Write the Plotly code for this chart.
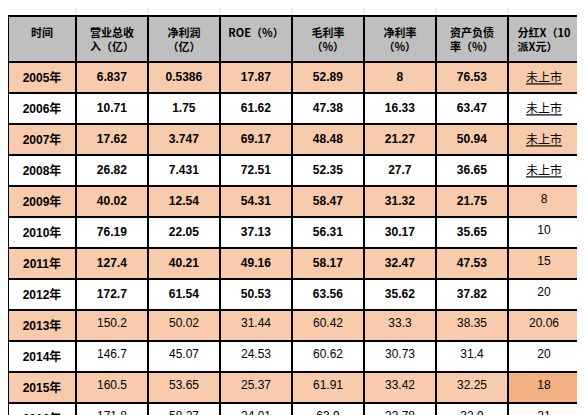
import plotly.graph_objects as go

headers = ["时间", "营业总收<br>入（亿）", "净利润<br>（亿）", "ROE（%）", "毛利率<br>（%）",
           "净利率<br>（%）", "资产负债<br>率（%）", "分红X（10<br>派X元）"]
years = [f"{y}年" for y in range(2005, 2023)]
revenue = ["6.837", "10.71", "17.62", "26.82", "40.02", "76.19", "127.4", "172.7", "150.2",
           "146.7", "160.5", "171.8", "199.2", "241.6", "231.3", "211", "253.5", "301"]
profit = ["0.5386", "1.75", "3.747", "7.431", "12.54", "22.05", "40.21", "61.54", "50.02",
          "45.07", "53.65", "58.27", "66.27", "81.15", "73.83", "74.82", "75.08", "93.78"]
roe = ["17.87", "61.62", "69.17", "72.51", "54.31", "37.13", "49.16", "50.53", "31.44",
       "24.53", "25.37", "24.01", "24.08", "25.95", "21.21", "20.2", "18.55", "21.03"]
gross = ["52.89", "47.38", "48.48", "52.35", "58.47", "56.31", "58.17", "63.56", "60.42",
         "60.62", "61.91", "63.9", "66.46", "73.7", "71.35", "72.27", "75.32", "74.6"]
net = ["8", "16.33", "21.27", "27.7", "31.32", "30.17", "32.47", "35.62", "33.3",
       "30.73", "33.42", "33.78", "33.23", "33.59", "31.94", "35.47", "29.64", "31.19"]
debt = ["76.53", "63.47", "50.94", "36.65", "21.75", "35.65", "47.53", "37.82", "38.35",
        "31.4", "32.25", "32.9", "31.82", "32.16", "31.73", "28.58", "37.34", "30.07"]
dividend = ["未上市", "未上市", "未上市", "未上市", "8", "10", "15", "20", "20.06",
            "20", "18", "21", "25.5", "32", "30", "30", "30", "37.4"]

n = len(years)
bold_rows = 8

def fmt(col):
    return [f"<b>{v}</b>" if i < bold_rows else v for i, v in enumerate(col)]

cols = [[f"<b>{y}</b>" for y in years]] + [fmt(c) for c in [revenue, profit, roe, gross, net, debt]]
cols.append([f"<u>{v}</u>" if v == "未上市" else v for v in dividend])

orange, white = "#F8CBAD", "#FFFFFF"
row_fill = [orange if i % 2 == 0 else white for i in range(n)]
fills = [row_fill[:] for _ in range(8)]
fills[7][10] = "#F4B183"

W, H = 585, 415
fig = go.Figure(go.Table(
    domain=dict(x=[0, 572 / W], y=[0, 1 - 8 / H]),
    columnwidth=[68, 72, 72, 72, 72, 72, 72, 72],
    header=dict(values=[f"<b>{h}</b>" for h in headers], fill_color="#BFBFBF",
                line=dict(color="black", width=2), align="center", height=40,
                font=dict(family="Noto Sans CJK SC, Liberation Sans", size=11, color="black")),
    cells=dict(values=cols, fill_color=fills, line=dict(color="black", width=2),
               align="center", height=19.8,
               font=dict(family="Liberation Sans Narrow, Liberation Sans, Noto Sans CJK SC",
                         size=12, color="black")),
))

# faint spreadsheet gridlines around the table
shapes = []
for x in [68, 140, 212, 284, 356, 428, 500, 572]:
    shapes.append(dict(type="line", xref="paper", yref="paper", x0=x / W, x1=x / W,
                       y0=0, y1=1, line=dict(color="#D9D9D9", width=1), layer="below"))
for y in [8, 408]:
    shapes.append(dict(type="line", xref="paper", yref="paper", x0=0, x1=1,
                       y0=1 - y / H, y1=1 - y / H, line=dict(color="#D9D9D9", width=1), layer="below"))

fig.update_layout(width=W, height=H, margin=dict(l=0, r=0, t=0, b=0),
                  paper_bgcolor="white", shapes=shapes)
fig.write_html("out.html")
